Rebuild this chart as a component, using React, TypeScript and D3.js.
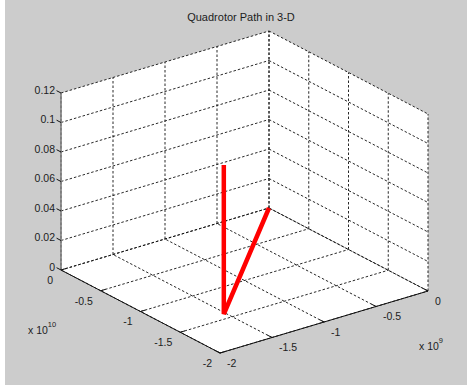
import React from 'react';
import * as d3 from 'd3';

// axis ticks (a: x 10^10 along the left edge, b: x 10^9 along the right edge)
const aTicks = [0, -0.5, -1, -1.5, -2];
const aLabels = ['0', '-0.5', '-1', '-1.5', '-2'];
const bTicks = [-2, -1.5, -1, -0.5, 0];
const bLabels = ['-2', '-1.5', '-1', '-0.5', '0'];
const zTicks = [0, 0.02, 0.04, 0.06, 0.08, 0.1, 0.12];
const zLabels = ['0', '0.02', '0.04', '0.06', '0.08', '0.1', '0.12'];

// quadrotor path
const pathA = [0, -1.42, -1.42];
const pathB = [0, -1.52, -1.52];
const pathZ = [0, 0, 0.101];

const W = 467;
const H = 391;

// projected box: front floor corner plus edge vectors
const front = [220, 353];
const aVec = [-159, -83];
const bVec = [208, -62];
const ta = d3.scaleLinear().domain([-2, 0]).range([0, 1]);
const tb = d3.scaleLinear().domain([-2, 0]).range([0, 1]);
const zs = d3.scaleLinear().domain([0, 0.12]).range([0, 177]);

const proj = (a: number, b: number, z: number): [number, number] => [
  front[0] + ta(a) * aVec[0] + tb(b) * bVec[0],
  front[1] + ta(a) * aVec[1] + tb(b) * bVec[1] - zs(z),
];

const unit = (v: number[], len: number) => {
  const n = Math.hypot(v[0], v[1]);
  return [(v[0] / n) * len, (v[1] / n) * len];
};

const font = 'Liberation Sans, Arial, sans-serif';
const txt = '#1c1c1c';

export default function App() {
  const line = d3.line();

  const hex = [
    proj(0, -2, 0.12),
    proj(0, 0, 0.12),
    proj(-2, 0, 0.12),
    proj(-2, 0, 0),
    proj(-2, -2, 0),
    proj(0, -2, 0),
  ];

  const grid: [number, number][][] = [];
  aTicks.forEach(a => grid.push([proj(a, -2, 0), proj(a, 0, 0)]));
  bTicks.forEach(b => grid.push([proj(-2, b, 0), proj(0, b, 0)]));
  bTicks.forEach(b => grid.push([proj(0, b, 0), proj(0, b, 0.12)]));
  zTicks.forEach(z => grid.push([proj(0, -2, z), proj(0, 0, z)]));
  aTicks.forEach(a => grid.push([proj(a, 0, 0), proj(a, 0, 0.12)]));
  zTicks.forEach(z => grid.push([proj(0, 0, z), proj(-2, 0, z)]));

  const zTickDir = unit(aVec, 5);
  const aTickDir = unit(bVec, 5);
  const bTickDir = unit(aVec, 5);

  const pathPts = pathA.map((a, i) => proj(a, pathB[i], pathZ[i]));

  return (
    <svg width={W} height={H} style={{ position: 'absolute', left: 0, top: 0 }}>
      <rect x={0} y={0} width={W} height={H} fill="#ffffff" />
      <rect x={5} y={0} width={W - 5} height={385} fill="#cccccc" />

      <text x={241} y={21} textAnchor="middle" fontFamily={font} fontSize={11} fill={txt}>
        Quadrotor Path in 3-D
      </text>

      <path d={line(hex) + 'Z'} fill="#ffffff" />

      {grid.map((g, i) => (
        <path key={i} d={line(g) || ''} stroke="#111" strokeWidth={0.9} strokeDasharray="2.5,2" fill="none" />
      ))}

      {/* axes */}
      <path d={line([proj(0, -2, 0), proj(0, -2, 0.12)]) || ''} stroke="#808080" strokeWidth={1.6} />
      <path d={line([proj(0, -2, 0), proj(-2, -2, 0)]) || ''} stroke="#111" strokeWidth={1} />
      <path d={line([proj(-2, -2, 0), proj(-2, 0, 0)]) || ''} stroke="#111" strokeWidth={1} />

      {zTicks.map((z, i) => {
        const [x, y] = proj(0, -2, z);
        return (
          <g key={'z' + i}>
            <line x1={x} y1={y} x2={x + zTickDir[0]} y2={y + zTickDir[1]} stroke="#111" />
            <text x={x - 6} y={y - 2} textAnchor="end" dominantBaseline="middle" fontFamily={font} fontSize={10.5} fill={txt}>
              {zLabels[i]}
            </text>
          </g>
        );
      })}

      {aTicks.map((a, i) => {
        const [x, y] = proj(a, -2, 0);
        return (
          <g key={'a' + i}>
            <line x1={x} y1={y} x2={x + aTickDir[0]} y2={y + aTickDir[1]} stroke="#111" />
            <text x={x - 8} y={y + 11} textAnchor="end" dominantBaseline="middle" fontFamily={font} fontSize={10.5} fill={txt}>
              {aLabels[i]}
            </text>
          </g>
        );
      })}

      {bTicks.map((b, i) => {
        const [x, y] = proj(-2, b, 0);
        return (
          <g key={'b' + i}>
            <line x1={x} y1={y} x2={x + bTickDir[0]} y2={y + bTickDir[1]} stroke="#111" />
            <text x={x + 7} y={y + 11} textAnchor="start" dominantBaseline="middle" fontFamily={font} fontSize={10.5} fill={txt}>
              {bLabels[i]}
            </text>
          </g>
        );
      })}

      <text x={28} y={334} fontFamily={font} fontSize={10.5} fill={txt}>
        x 10
        <tspan dy={-7} fontSize={7.5}>10</tspan>
      </text>
      <text x={419} y={350} fontFamily={font} fontSize={10.5} fill={txt}>
        x 10
        <tspan dy={-7} fontSize={7.5}>9</tspan>
      </text>

      <path d={line(pathPts) || ''} stroke="#ff0000" strokeWidth={4.5} fill="none" strokeLinejoin="miter" />
    </svg>
  );
}
